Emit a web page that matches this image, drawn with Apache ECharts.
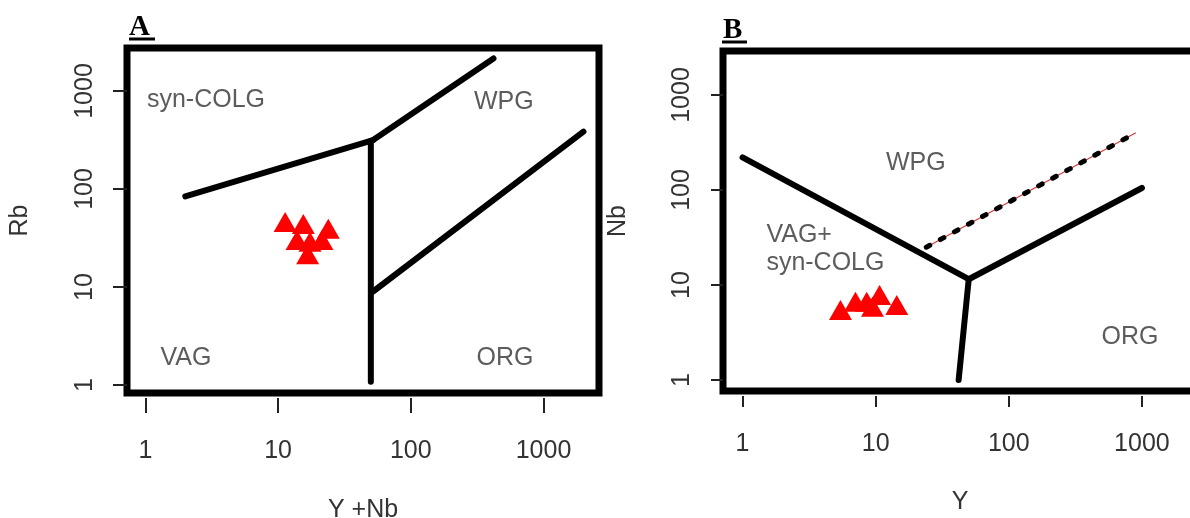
<!DOCTYPE html>
<html>
<head>
<meta charset="utf-8">
<script src="https://cdn.jsdelivr.net/npm/echarts@6/dist/echarts.min.js"></script>
<style>
html, body { margin: 0; padding: 0; background: #fff; }
#main { width: 1190px; height: 518px; }
</style>
</head>
<body>
<div id="main"></div>
<script>
// tick values used on every axis
var tickValues = [1, 10, 100, 1000];

// ---- A : Rb vs Y+Nb ----
var aColgVag = [[2, 84], [52, 316]];
var aWpgColg = [[52, 316], [420, 2150]];
var aVagOrg = [[50, 310], [50, 1.08]];
var aOrgWpg = [[52, 9], [2000, 385]];
var aSampleX = [11.3, 15.5, 23.9, 13.9, 21.4, 17.4, 16.7];
var aSampleY = [46.0, 43.9, 39.4, 30.2, 30.2, 29.0, 21.6];
var aZoneNames = ['syn-COLG', 'WPG', 'VAG', 'ORG'];
var aZoneX = [2.86, 503, 2.02, 512];
var aZoneY = [809, 772, 1.89, 1.89];

// ---- B : Nb vs Y ----
var bVagWpg = [[1, 220], [50, 11.5]];
var bWpgOrg = [[50, 11.5], [1000, 105]];
var bVagOrg = [[50, 11.5], [42, 1]];
var bDashed = [[24, 25], [900, 400]];
var bSampleX = [5.44, 7.05, 8.56, 10.7, 14.4, 9.46];
var bSampleY = [5.46, 6.67, 6.67, 7.85, 6.16, 5.91];
var bZoneNames = ['WPG', 'VAG+\nsyn-COLG', 'ORG'];
var bZoneX = [20, 1.51, 813];
var bZoneY = [192, 23.9, 2.84];

var FONT = '"Liberation Sans", Arial, sans-serif';
var TXT = '#333';

function pairs(xs, ys) {
    var out = [];
    for (var i = 0; i < xs.length; i++) out.push([xs[i], ys[i]]);
    return out;
}
function zones(names, xs, ys) {
    var out = [];
    for (var i = 0; i < names.length; i++) out.push([xs[i], ys[i], names[i]]);
    return out;
}
function boundary(idx, data) {
    return {
        type: 'line', xAxisIndex: idx, yAxisIndex: idx, data: data,
        symbol: 'none', silent: true, z: 3,
        lineStyle: { color: '#000', width: 6, cap: 'round' }
    };
}
function samples(idx, data) {
    return {
        type: 'scatter', xAxisIndex: idx, yAxisIndex: idx, data: data,
        symbol: 'triangle', symbolSize: [23, 20], z: 5,
        itemStyle: { color: '#ff0000', opacity: 1 }
    };
}
function zoneLabels(idx, data, pos) {
    return {
        type: 'scatter', xAxisIndex: idx, yAxisIndex: idx, data: data,
        symbolSize: 0, silent: true, z: 4,
        label: {
            show: true, position: pos, distance: 0,
            formatter: function (p) { return p.value[2]; },
            fontSize: 25, lineHeight: 28, color: TXT, fontFamily: FONT
        }
    };
}
function plainNum(v) { return String(v); }
function xAxisOf(idx, min, max, tickLen, margin, name, gap, namePad) {
    return {
        gridIndex: idx, type: 'log', logBase: 10, min: min, max: max, offset: 5,
        axisLine: { show: false },
        axisTick: { show: true, length: tickLen, customValues: tickValues,
            lineStyle: { color: '#222', width: 2 } },
        axisLabel: { customValues: tickValues, margin: margin, fontSize: 25,
            color: TXT, fontFamily: FONT, formatter: plainNum },
        splitLine: { show: false },
        name: name, nameLocation: 'middle', nameGap: gap,
        nameTextStyle: { fontSize: 25, color: TXT, fontFamily: FONT, padding: namePad }
    };
}
function yAxisOf(idx, min, max, tickLen, margin, name, gap) {
    return {
        gridIndex: idx, type: 'log', logBase: 10, min: min, max: max,
        axisLine: { show: false },
        axisTick: { show: true, length: tickLen, customValues: tickValues,
            lineStyle: { color: '#222', width: 2 } },
        axisLabel: { customValues: tickValues, margin: margin, rotate: 90,
            fontSize: 25, color: TXT, fontFamily: FONT, formatter: plainNum },
        splitLine: { show: false },
        name: name, nameLocation: 'middle', nameGap: gap,
        nameTextStyle: { fontSize: 25, color: TXT, fontFamily: FONT }
    };
}

var myChart = echarts.init(document.getElementById('main'));
var option = {
    animation: false,
    backgroundColor: '#fff',
    grid: [
        { left: 127, top: 48, width: 472, height: 345, show: true,
          borderColor: '#000', borderWidth: 7, outerBoundsMode: 'none' },
        { left: 723, top: 51, width: 492, height: 340, show: true,
          borderColor: '#000', borderWidth: 7, outerBoundsMode: 'none' }
    ],
    xAxis: [
        xAxisOf(0, 0.727, 2620, 15, 41, 'Y +Nb', 100, [0, 0, 0, 0]),
        xAxisOf(1, 0.713, 3540, 11, 36, 'Y', 94, [0, 18, 0, 0])
    ],
    yAxis: [
        yAxisOf(0, 0.829, 2747, 14, 29, 'Rb', 94),
        yAxisOf(1, 0.766, 2904, 12, 28, 'Nb', 92)
    ],
    graphic: [
        { type: 'text', left: 129, top: 13, style: { text: 'A', fontSize: 29,
            fontWeight: 'bold', fontFamily: '"Liberation Serif", serif', fill: '#000' } },
        { type: 'line', shape: { x1: 129, y1: 39, x2: 155, y2: 39 },
            style: { stroke: '#000', lineWidth: 3 } },
        { type: 'text', left: 723, top: 16, style: { text: 'B', fontSize: 29,
            fontWeight: 'bold', fontFamily: '"Liberation Serif", serif', fill: '#000' } },
        { type: 'line', shape: { x1: 722, y1: 42, x2: 747, y2: 42 },
            style: { stroke: '#000', lineWidth: 3 } }
    ],
    series: [
        boundary(0, aColgVag),
        boundary(0, aWpgColg),
        boundary(0, aVagOrg),
        boundary(0, aOrgWpg),
        samples(0, pairs(aSampleX, aSampleY)),
        zoneLabels(0, zones(aZoneNames, aZoneX, aZoneY), 'inside'),

        boundary(1, bVagWpg),
        boundary(1, bWpgOrg),
        boundary(1, bVagOrg),
        {
            type: 'line', xAxisIndex: 1, yAxisIndex: 1, data: bDashed,
            symbol: 'none', silent: true, z: 3,
            lineStyle: { color: '#d43a3a', width: 1.2 }
        },
        {
            type: 'line', xAxisIndex: 1, yAxisIndex: 1, data: bDashed,
            symbol: 'none', silent: true, z: 3,
            lineStyle: { color: '#000', width: 5, type: [4, 12], cap: 'round' }
        },
        samples(1, pairs(bSampleX, bSampleY)),
        zoneLabels(1, zones(bZoneNames.slice(0, 1), bZoneX.slice(0, 1), bZoneY.slice(0, 1)), 'inside'),
        zoneLabels(1, zones(bZoneNames.slice(1, 2), bZoneX.slice(1, 2), bZoneY.slice(1, 2)), 'right'),
        zoneLabels(1, zones(bZoneNames.slice(2), bZoneX.slice(2), bZoneY.slice(2)), 'inside')
    ]
};
myChart.setOption(option);
window.addEventListener('resize', function () {
    myChart.resize();
});
</script>
</body>
</html>
